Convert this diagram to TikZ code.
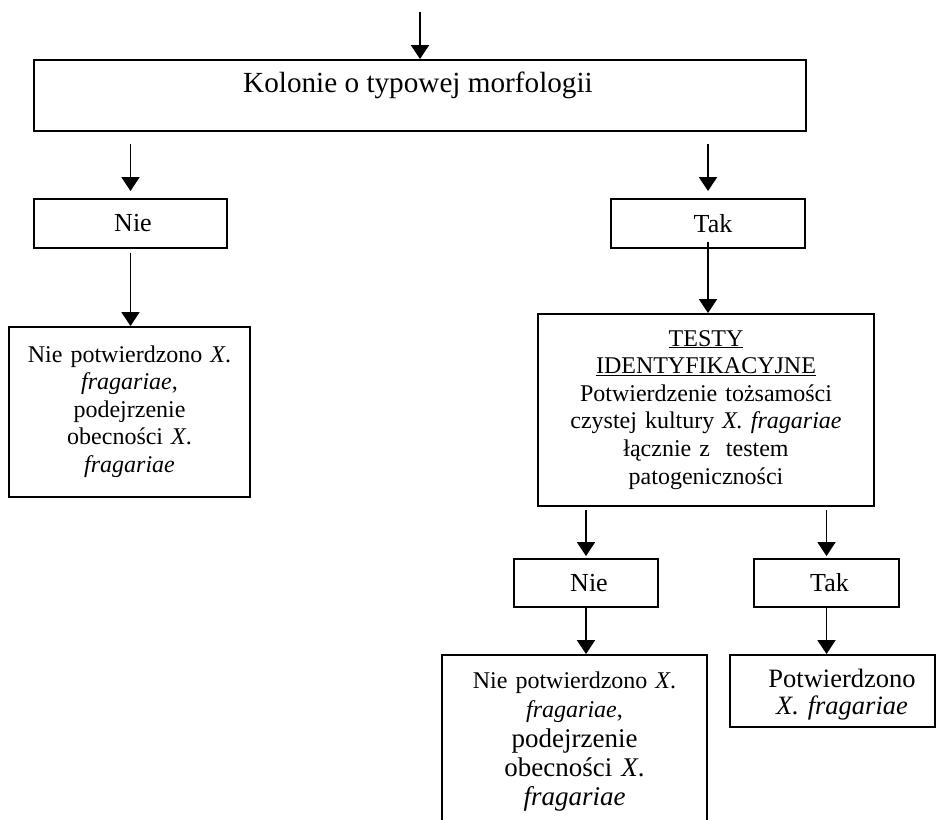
\documentclass[tikz,border=0pt]{standalone}
\usepackage{fontspec}
\setmainfont{Liberation Serif}
\usetikzlibrary{arrows.meta}
\begin{document}
\begin{tikzpicture}[x=1pt,y=-1pt,
  box/.style={draw, line width=1.9pt, inner sep=0pt, anchor=center},
  arr/.style={line width=1.9pt, -{Triangle[length=14pt,width=18pt]}},
  lbl/.style={inner sep=0pt, anchor=base, align=center},
  f24/.style={font=\fontsize{24}{27.6}\selectfont},
  f26/.style={font=\fontsize{26}{30}\selectfont}]
\clip (0,0) rectangle (936,819);
\fill[white] (0,0) rectangle (936,819);
% boxes
\node[box, minimum width=772pt, minimum height=71pt] (main) at (420,95.5) {};
\node[box, f26, minimum width=193pt, minimum height=49pt] (nie1) at (130.5,223.5) {\hspace*{5pt}Nie};
\node[box, f26, minimum width=194pt, minimum height=49pt] (tak1) at (708,223.5) {\hspace*{10pt}Tak};
\node[box, minimum width=241pt, minimum height=170pt] (lbox) at (129.5,412) {};
\node[box, minimum width=336pt, minimum height=192pt] (testy) at (706,410) {};
\node[box, f26, minimum width=144pt, minimum height=48pt] (nie2) at (586,583) {\hspace*{6pt}Nie};
\node[box, f26, minimum width=145pt, minimum height=48pt] (tak2) at (826.5,583) {\hspace*{6pt}Tak};
\node[box, minimum width=265pt, minimum height=185pt] (blbox) at (574.5,747.5) {};
\node[box, minimum width=205pt, minimum height=72pt] (brbox) at (832.5,691) {};
% texts
\node[lbl, font=\fontsize{29.2}{33}\selectfont] (maintext) at (418,92) {Kolonie o typowej morfologii};
\node[lbl, f24, text width=235pt] (lboxtext) at (129.5,362)
  {Nie potwierdzono \textit{X}.\\ \textit{fragariae},\\ podejrzenie\\ obecności \textit{X}.\\ \textit{fragariae}};
\node[lbl, f24, text width=330pt] (testytext) at (706,346)
  {\underline{TESTY}\\ \underline{IDENTYFIKACYJNE}\\ Potwierdzenie tożsamości\\ czystej kultury \textit{X. fragariae}\\ łącznie z\ \ testem\\ patogeniczności};
\node[lbl, font=\fontsize{24}{29}\selectfont, text width=260pt] (bltext1) at (574.5,688)
  {Nie potwierdzono \textit{X}.\\ \textit{fragariae},};
\node[lbl, font=\fontsize{27}{29}\selectfont, text width=260pt] (bltext2) at (574.5,747)
  {podejrzenie\\ obecności \textit{X}.\\ \textit{fragariae}};
\node[lbl, font=\fontsize{26.5}{27}\selectfont, text width=200pt] (brtext) at (842,687)
  {Potwierdzono\\ \textit{X. fragariae}};
% connectors
\coordinate (topstart) at (420,12);
\draw[arr] (topstart) -- (main.north);
\draw[arr, shorten <=12pt, shorten >=7pt] (main.south -| nie1.north) -- (nie1.north);
\draw[arr, shorten <=12pt, shorten >=7pt] (main.south -| tak1.north) -- (tak1.north);
\draw[arr, shorten <=4pt] (nie1.south) -- (lbox.north -| nie1.south);
\draw[arr, shorten <=-7pt] (tak1.south) -- (testy.north -| tak1.south);
\draw[arr, shorten <=3pt, shorten >=2pt] (testy.south -| nie2.north) -- (nie2.north);
\draw[arr, shorten <=3pt, shorten >=2pt] (testy.south -| tak2.north) -- (tak2.north);
\draw[arr] (nie2.south) -- (blbox.north -| nie2.south);
\draw[arr] (tak2.south) -- (brbox.north -| tak2.south);
\end{tikzpicture}
\end{document}
